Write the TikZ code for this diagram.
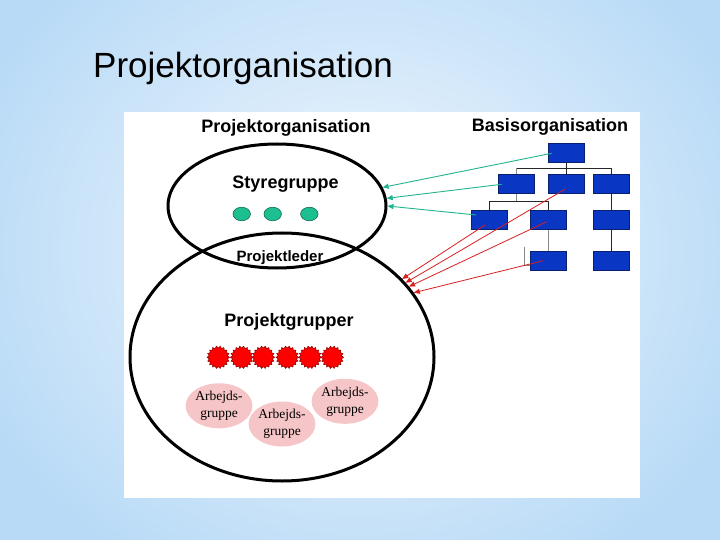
\documentclass[tikz,border=0pt]{standalone}
\usepackage{fontspec}
\setmainfont{Liberation Sans}
\newfontfamily\serifpart{Liberation Serif}
\usetikzlibrary{shapes.geometric,arrows.meta}
\definecolor{bgouter}{HTML}{B8DAF6}
\definecolor{bginner}{HTML}{F2F8FE}
\definecolor{boxblue}{HTML}{0A36C4}
\definecolor{boxedge}{HTML}{0A1F6E}
\definecolor{tealc}{HTML}{1DBE90}
\definecolor{tealedge}{HTML}{0E6E52}
\definecolor{tealarrow}{HTML}{20B58F}
\definecolor{redarrowc}{HTML}{D82020}
\definecolor{pinkc}{HTML}{F6C5C7}
\definecolor{lineg}{HTML}{8A8A8A}
\tikzset{
  orgbox/.style={draw=boxedge,line width=0.8pt,fill=boxblue,minimum width=36pt,minimum height=19pt,inner sep=0pt},
  darkline/.style={draw=black!85,line width=0.9pt},
  greyline/.style={draw=lineg,line width=0.9pt},
  bigell/.style={draw=black,line width=3pt,ellipse,inner sep=0pt},
  greendot/.style={ellipse,draw=tealedge,line width=0.6pt,fill=tealc,minimum width=17.5pt,minimum height=13.5pt,inner sep=0pt},
  redstar/.style={star,star points=18,star point ratio=0.82,draw=red!55!black,line width=0.5pt,fill=red,minimum size=18.5pt,inner sep=0pt},
  pinkblob/.style={ellipse,fill=pinkc,minimum width=63pt,minimum height=45pt,inner sep=0pt,align=center,font=\serifpart\fontsize{13.5}{17}\selectfont},
  greenarrow/.style={draw=tealarrow,line width=0.9pt,-{Triangle[length=6pt,width=5pt]}},
  redarrow/.style={draw=redarrowc,line width=0.8pt,-{Triangle[length=6pt,width=5pt]}},
  headtext/.style={font=\bfseries\fontsize{18}{20}\selectfont,anchor=base,inner sep=0pt}
}
\begin{document}
\begin{tikzpicture}[x=1pt,y=-1pt]
\useasboundingbox (0,0) rectangle (720,540);
% background
\shade[inner color=bginner,outer color=bgouter] (-60,-120) rectangle (780,620);
\clip (0,0) rectangle (720,540);
\fill[white] (124,112) rectangle (640,498);
% title
\node[anchor=base west,inner sep=0pt,font=\fontsize{35}{40}\selectfont] (title) at (93,78) {Projektorganisation};
% headers
\node[headtext] (hpo) at (286,132.3) {Projektorganisation};
\node[headtext] (hbo) at (550,131.7) {Basisorganisation};
% big ellipses
\node[bigell,minimum width=304pt,minimum height=248pt] (lower) at (282,357) {};
\node[bigell,minimum width=218pt,minimum height=124pt] (upper) at (277,206) {};
\node[headtext] (styre) at (285.5,188.3) {Styregruppe};
\node[headtext,font=\bfseries\fontsize{15}{17}\selectfont] (pleder) at (280,261.7) {Projektleder};
\node[headtext] (pgrupper) at (289,326) {Projektgrupper};
% green dots
\node[greendot] (g1) at (241.7,214) {};
\node[greendot] (g2) at (272.7,214) {};
\node[greendot] (g3) at (309.3,214) {};
% red stars
\foreach \i/\x in {1/218.3,2/241.7,3/263.3,4/287.3,5/310,6/332.3}
  \node[redstar] (s\i) at (\x,357.3) {};
% work groups
\node[pinkblob] (w1) at (219,405.8) {Arbejds-\\gruppe};
\node[pinkblob] (w2) at (282,424) {Arbejds-\\gruppe};
\node[pinkblob] (w3) at (345,401.3) {Arbejds-\\gruppe};
% org chart
\coordinate (h2) at (0,168.3);
\coordinate (h3) at (0,201.7);
\node[orgbox] (top) at (566.3,152.5) {};
\node[orgbox] (b2a) at (516.3,184) {};
\node[orgbox] (b2b) at (566.3,184) {};
\node[orgbox] (b2c) at (611.3,184) {};
\node[orgbox] (b3a) at (489.3,220) {};
\node[orgbox] (b3b) at (548.3,220) {};
\node[orgbox] (b3c) at (611.3,220) {};
\node[orgbox] (b4a) at (548.3,261) {};
\node[orgbox] (b4b) at (611.3,261) {};
\coordinate (stray) at (524.3,246.7);
\draw[darkline] (top.south) -- (b2b.north);
\draw[darkline] (b2a.north|-h2) -- (b2c.north|-h2) -- (b2c.north);
\draw[greyline] (b2a.north|-h2) -- (b2a.north);
\draw[greyline] (b2a.south) -- (b2a.south|-h3);
\draw[darkline] (b3a.north) -- (b3a.north|-h3) -- (b3b.north|-h3) -- (b3b.north);
\draw[greyline] (b3b.south) -- (b4a.north);
\draw[darkline] (b2c.south) -- (b3c.north);
\draw[darkline] (b3c.south) -- (b4b.north);
\draw[greyline] (stray) |- ([yshift=-4pt]b4a.west);
% green arrows
\draw[greenarrow] ([xshift=-14.6pt,yshift=-0.8pt]top.center) -- (upper.10.6);
\draw[greenarrow] ([xshift=-14.6pt,yshift=-0.3pt]b2a.center) -- (upper.4.8);
\draw[greenarrow] ([xshift=-13.3pt,yshift=5pt]b3a.center) -- (upper.-0.4);
% red arrows
\draw[redarrow] ([xshift=-4.3pt,yshift=-5pt]b3a.center) -- (lower.33.9);
\draw[redarrow] ([xshift=-1.3pt,yshift=-5.3pt]b2b.center) -- (lower.31.7);
\draw[redarrow] ([xshift=-1.6pt,yshift=-1.7pt]b3b.center) -- (lower.29);
\draw[redarrow] ([xshift=-5pt,yshift=0.3pt]b4a.center) -- (lower.26.5);
\end{tikzpicture}
\end{document}
